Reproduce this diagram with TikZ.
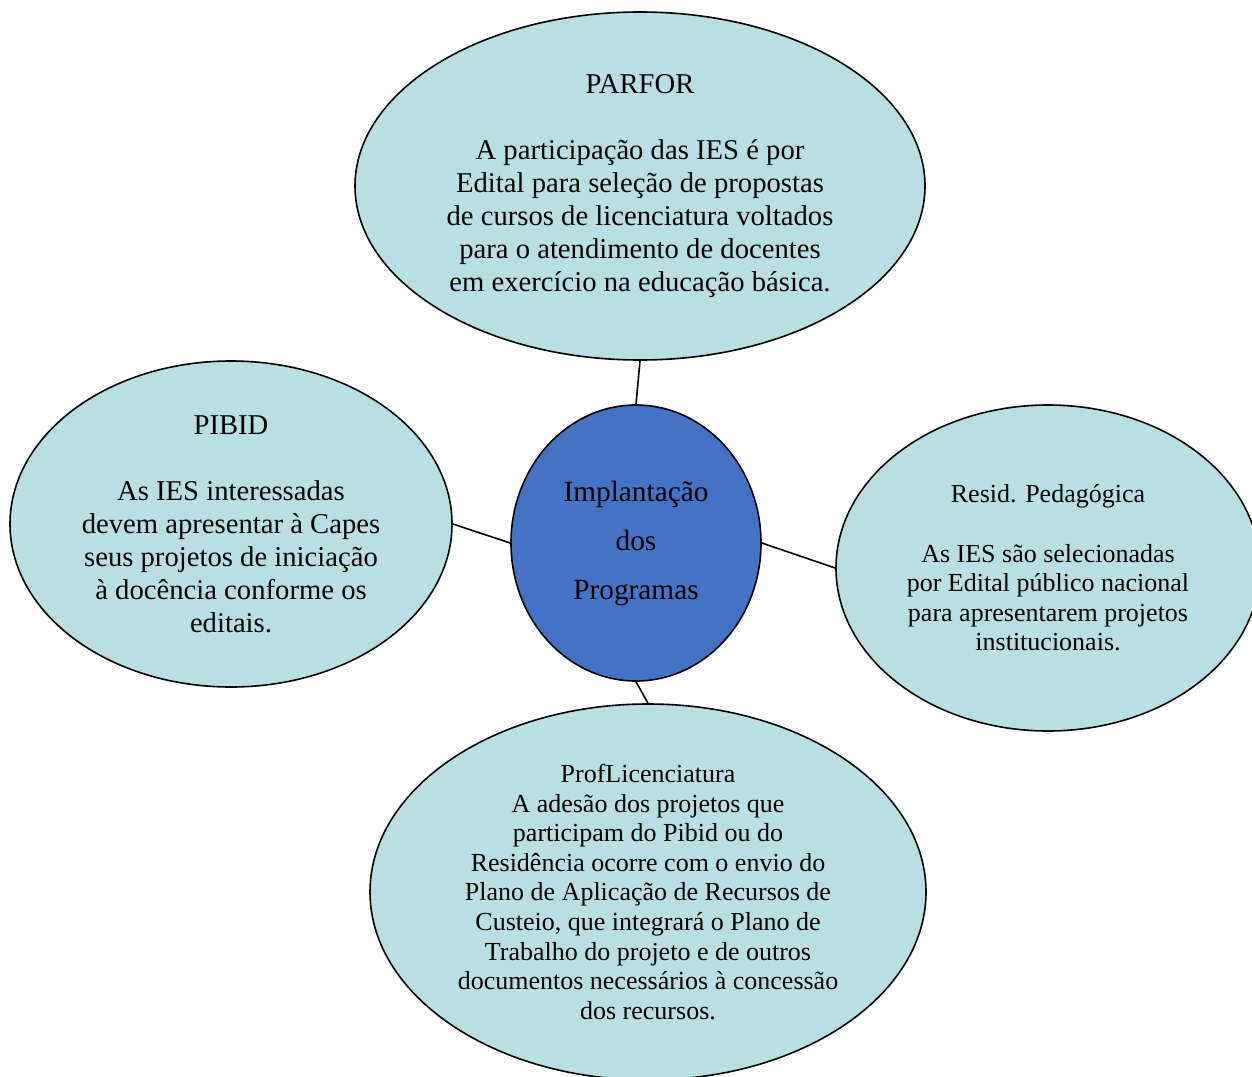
\documentclass[tikz,border=0pt]{standalone}
\usepackage{fontspec}
\setmainfont{Liberation Serif}
\usetikzlibrary{shapes.geometric}
\definecolor{lightfill}{HTML}{B9DFE3}
\definecolor{bluefill}{HTML}{4472C4}
\tikzset{
  bubble/.style={ellipse, draw=black, line width=1.2pt, fill=lightfill, inner sep=0pt, align=center, text=black},
  hub/.style={bubble, fill=bluefill},
  link/.style={draw=black, line width=1.2pt}
}
\begin{document}
\begin{tikzpicture}[x=0.75pt, y=-0.75pt]
\useasboundingbox (0,0) rectangle (1252,1077);
\node[bubble, minimum width=427.5pt, minimum height=261pt,
  font=\fontsize{21.5}{24.75}\selectfont] (parfor) at (640,186)
  {PARFOR\\[24.75pt]
   A participação das IES é por\\
   Edital para seleção de propostas\\
   de cursos de licenciatura voltados\\
   para o atendimento de docentes\\
   em exercício na educação básica.};
\node[bubble, minimum width=331.5pt, minimum height=244.5pt,
  font=\fontsize{21.5}{24.75}\selectfont] (pibid) at (231,524)
  {PIBID\\[24.75pt]
   As IES interessadas\\
   devem apresentar à Capes\\
   seus projetos de iniciação\\
   à docência conforme os\\
   editais.};
\node[hub, minimum width=187.5pt, minimum height=207pt,
  font=\fontsize{22}{36.75}\selectfont] (hub) at (636,543)
  {Implantação\\dos\\Programas};
\node[bubble, minimum width=318pt, minimum height=244.5pt,
  font=\fontsize{19.5}{22.2}\selectfont] (resid) at (1048,568)
  {Resid. Pedagógica\\[22.2pt]
   As IES são selecionadas\\
   por Edital público nacional\\
   para apresentarem projetos\\
   institucionais.};
\node[bubble, minimum width=417pt, minimum height=282pt,
  font=\fontsize{19.5}{22.2}\selectfont] (prof) at (648,892)
  {ProfLicenciatura\\
   A adesão dos projetos que\\
   participam do Pibid ou do\\
   Residência ocorre com o envio do\\
   Plano de Aplicação de Recursos de\\
   Custeio, que integrará o Plano de\\
   Trabalho do projeto e de outros\\
   documentos necessários à concessão\\
   dos recursos.};
\draw[link] (parfor.south) -- (hub.north);
\draw[link] (pibid.east) -- (hub.west);
\draw[link] (hub.east) -- (resid.west);
\draw[link] (hub.south) -- (prof.north);
\end{tikzpicture}
\end{document}
